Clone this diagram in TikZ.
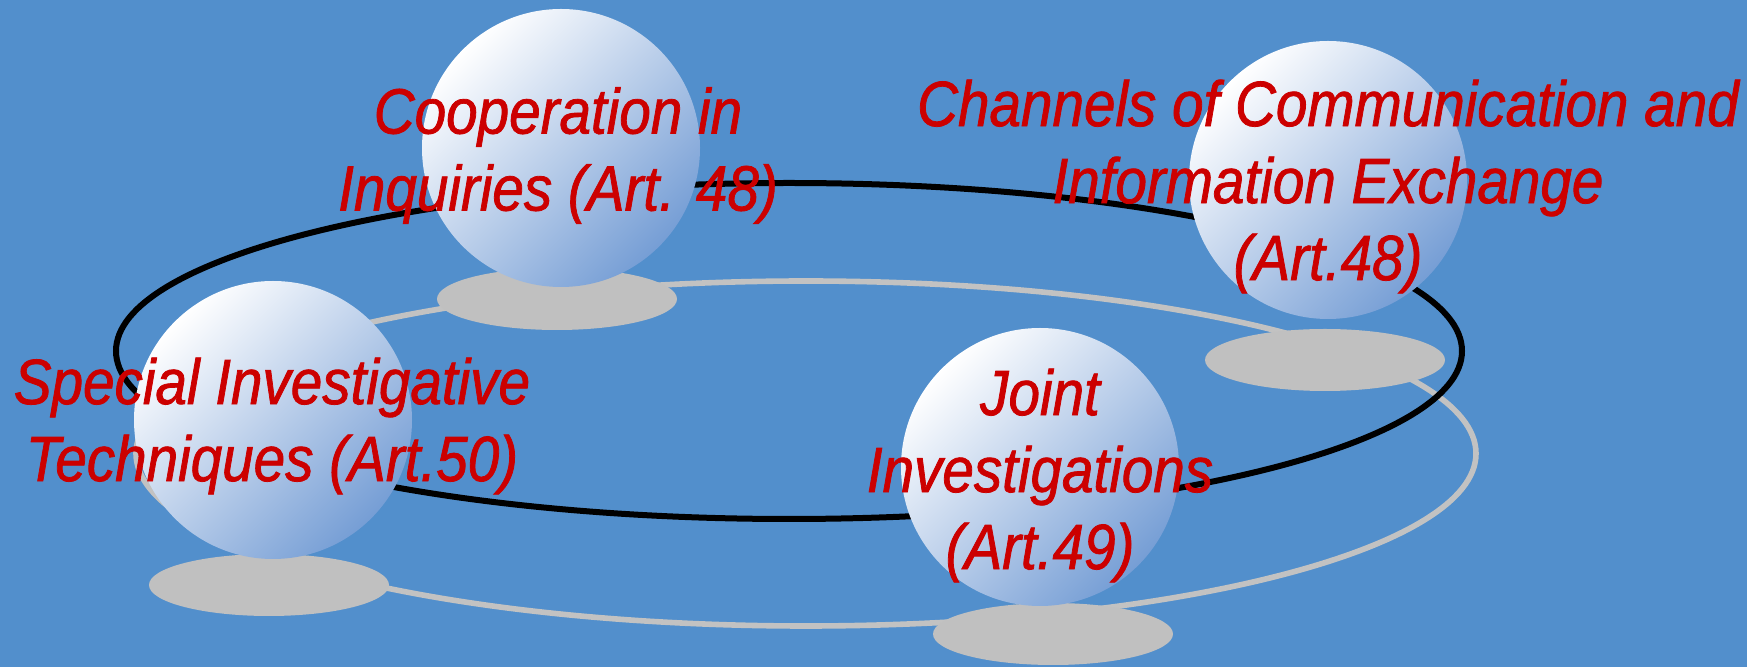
\documentclass[tikz,border=0pt]{standalone}
\usepackage{fontspec}
\setmainfont{Liberation Sans}[FakeStretch=0.885,FakeBold=1.2]
\usetikzlibrary{shapes.geometric}
\definecolor{bgblue}{RGB}{82,143,204}
\definecolor{txtred}{RGB}{204,0,0}
\definecolor{sphereend}{RGB}{118,158,213}
\definecolor{shadowgray}{RGB}{192,192,192}
\definecolor{orbitgray}{RGB}{194,194,194}
\tikzset{
  ball/.style={circle, minimum size=139pt, inner sep=0pt, shading=axis,
    top color=white, bottom color=sphereend, shading angle=45},
  ballshadow/.style={ellipse, fill=shadowgray, minimum width=120pt, minimum height=31pt, inner sep=0pt},
  lbl/.style={text=txtred, align=center, inner sep=0pt,
    font=\fontsize{32}{38.5}\selectfont\itshape},
  orbitblack/.style={draw=black, line width=3pt},
  orbitgrayline/.style={draw=orbitgray, line width=2.8pt}
}
\begin{document}
\begin{tikzpicture}[x=0.5pt,y=-0.5pt]
\fill[bgblue] (0,0) rectangle (1747,667);
\useasboundingbox (0,0) rectangle (1747,667);
% orbits
\draw[orbitgrayline] (806,453.5) ellipse [x radius=335pt, y radius=86.25pt];
\draw[orbitblack] (789,351) ellipse [x radius=336.5pt, y radius=84pt];
% shadows
\node[ballshadow] (coopsh) at (557,299) {};
\node[ballshadow] (specsh) at (269,585) {};
\node[ballshadow] (chansh) at (1325,360) {};
\node[ballshadow] (jointsh) at (1053,634) {};
% spheres
\node[ball] (coop) at (561,148) {};
\node[ball] (spec) at (273,420) {};
\node[ball] (chan) at (1328,180) {};
\node[ball] (joint) at (1040,467) {};
% labels
\node[lbl] (cooptxt) at (558,155.5) {Cooperation in\\Inquiries (Art. 48)};
\node[lbl] (spectxt) at (272,426) {Special Investigative\\Techniques (Art.50)};
\node[lbl] (chantxt) at (1328,186.5) {Channels of Communication and\\Information Exchange\\(Art.48)};
\node[lbl] (jointtxt) at (1040,475.5) {Joint\\Investigations\\(Art.49)};
\end{tikzpicture}
\end{document}
